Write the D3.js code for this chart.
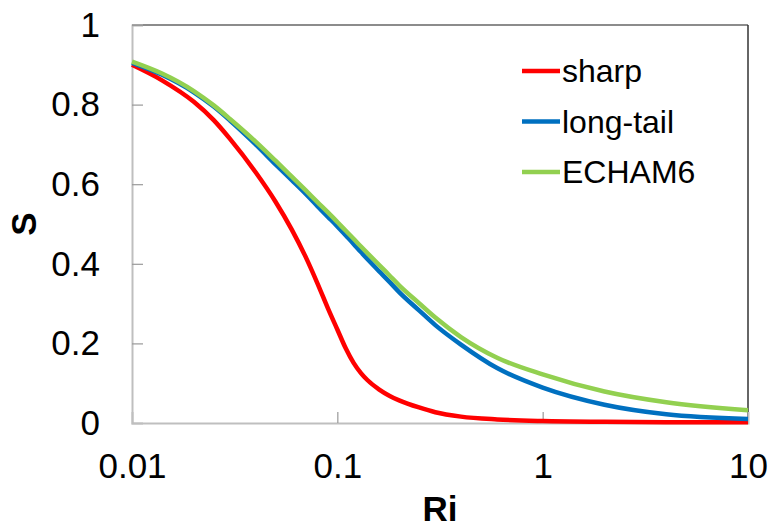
<!DOCTYPE html>
<html>
<head>
<meta charset="utf-8">
<script src="https://cdn.jsdelivr.net/npm/d3@7"></script>
<style>
  body { margin: 0; background: #fff; }
  text { font-family: "Liberation Sans", Arial, sans-serif; }
</style>
</head>
<body>
<div id="chart"></div>
<script>
// Ri values shared by all series
var ri = [0.01, 0.014, 0.02, 0.025, 0.03, 0.04, 0.05, 0.06, 0.07, 0.08, 0.09, 0.1,
          0.11, 0.12, 0.13, 0.14, 0.16, 0.18, 0.2, 0.25, 0.3, 0.4, 0.6, 1, 2, 4, 10];

var sharp    = [0.90, 0.861, 0.807, 0.761, 0.714, 0.630, 0.556, 0.486, 0.418, 0.351, 0.288, 0.235,
                0.187, 0.151, 0.126, 0.108, 0.084, 0.068, 0.057, 0.039, 0.027, 0.016, 0.009, 0.005, 0.003, 0.002, 0.002];
var longTail = [0.905, 0.875, 0.831, 0.795, 0.760, 0.700, 0.650, 0.610, 0.576, 0.545, 0.518, 0.494,
                0.471, 0.450, 0.430, 0.412, 0.381, 0.354, 0.329, 0.283, 0.246, 0.197, 0.138, 0.089, 0.046, 0.022, 0.010];
var echam6   = [0.908, 0.878, 0.834, 0.798, 0.764, 0.707, 0.659, 0.619, 0.585, 0.555, 0.529, 0.505,
                0.483, 0.463, 0.444, 0.427, 0.397, 0.370, 0.346, 0.301, 0.265, 0.216, 0.164, 0.122, 0.079, 0.052, 0.032];

var seriesNames  = ["sharp", "long-tail", "ECHAM6"];
var seriesColors = ["#ff0000", "#0070c0", "#92d050"];
var xTicks = [0.01, 0.1, 1, 10];
var yTicks = [0, 0.2, 0.4, 0.6, 0.8, 1];

var series = [sharp, longTail, echam6].map(function(vals, i) {
  return {name: seriesNames[i], color: seriesColors[i],
          values: vals.map(function(v, j) { return {x: ri[j], y: v}; })};
});

var margin = {top: 25, right: 22, bottom: 104, left: 132},
    width = 770 - margin.left - margin.right,
    height = 527 - margin.top - margin.bottom;

var x = d3.scaleLog().domain([0.01, 10]).range([0, width]);
var y = d3.scaleLinear().domain([0, 1]).range([height, 0]);

var svg = d3.select("#chart").append("svg")
    .attr("width", 770)
    .attr("height", 527);

var g = svg.append("g")
    .attr("transform", "translate(" + margin.left + "," + margin.top + ")");

// plot border (top / right)
g.append("line").attr("x1", 0).attr("x2", width).attr("y1", 0).attr("y2", 0)
    .attr("stroke", "#8c8c8c").attr("stroke-width", 2);
g.append("line").attr("x1", width).attr("x2", width).attr("y1", 0).attr("y2", height)
    .attr("stroke", "#333").attr("stroke-width", 1.5);

// y axis
var yAxis = g.append("g")
    .call(d3.axisLeft(y).tickValues(yTicks).tickSize(-11).tickPadding(32)
      .tickFormat(function(d) { return d === 0 || d === 1 ? d3.format("d")(d) : d3.format(".1f")(d); }));
yAxis.select(".domain").attr("stroke", "#bfbfbf").attr("stroke-width", 2);
yAxis.selectAll(".tick line").attr("stroke", "#999").attr("stroke-width", 1.2);
yAxis.selectAll("text").attr("font-size", 35).attr("fill", "#000")
    .style("font-family", "'Liberation Sans', Arial, sans-serif");
yAxis.selectAll(".tick").filter(function(d) { return d === 0; }).select("line").remove();

// x axis
var xAxis = g.append("g")
    .attr("transform", "translate(0," + height + ")")
    .call(d3.axisBottom(x).tickValues(xTicks).tickSize(-11).tickPadding(30)
      .tickFormat(function(d) { return String(d); }));
xAxis.select(".domain").attr("stroke", "#bfbfbf").attr("stroke-width", 2);
xAxis.selectAll(".tick line").attr("stroke", "#999").attr("stroke-width", 1.2);
xAxis.selectAll("text").attr("font-size", 35).attr("fill", "#000")
    .style("font-family", "'Liberation Sans', Arial, sans-serif");
xAxis.selectAll(".tick").filter(function(d) { return d === 0.01 || d === 10; }).select("line").remove();

// lines
var line = d3.line()
    .curve(d3.curveMonotoneX)
    .x(function(d) { return x(d.x); })
    .y(function(d) { return y(d.y); });

g.selectAll(".series")
  .data(series)
  .enter().append("path")
    .attr("class", "series")
    .attr("fill", "none")
    .attr("stroke", function(d) { return d.color; })
    .attr("stroke-width", 4.5)
    .attr("d", function(d) { return line(d.values); });

// legend
var legend = svg.selectAll(".legend")
  .data(series)
  .enter().append("g")
    .attr("class", "legend")
    .attr("transform", function(d, i) { return "translate(522," + (71 + i * 50.5) + ")"; });

legend.append("line")
    .attr("x1", 0).attr("x2", 38)
    .attr("stroke", function(d) { return d.color; })
    .attr("stroke-width", 4.5);

legend.append("text")
    .attr("x", 40)
    .attr("dy", "0.35em")
    .attr("font-size", 32)
    .text(function(d) { return d.name; });

// axis titles
svg.append("text")
    .attr("x", margin.left + width / 2)
    .attr("y", 521)
    .attr("text-anchor", "middle")
    .attr("font-size", 35)
    .attr("font-weight", "bold")
    .text("Ri");

svg.append("text")
    .attr("transform", "translate(36," + (margin.top + height / 2) + ") rotate(-90)")
    .attr("text-anchor", "middle")
    .attr("font-size", 35)
    .attr("font-weight", "bold")
    .text("S");
</script>
</body>
</html>
